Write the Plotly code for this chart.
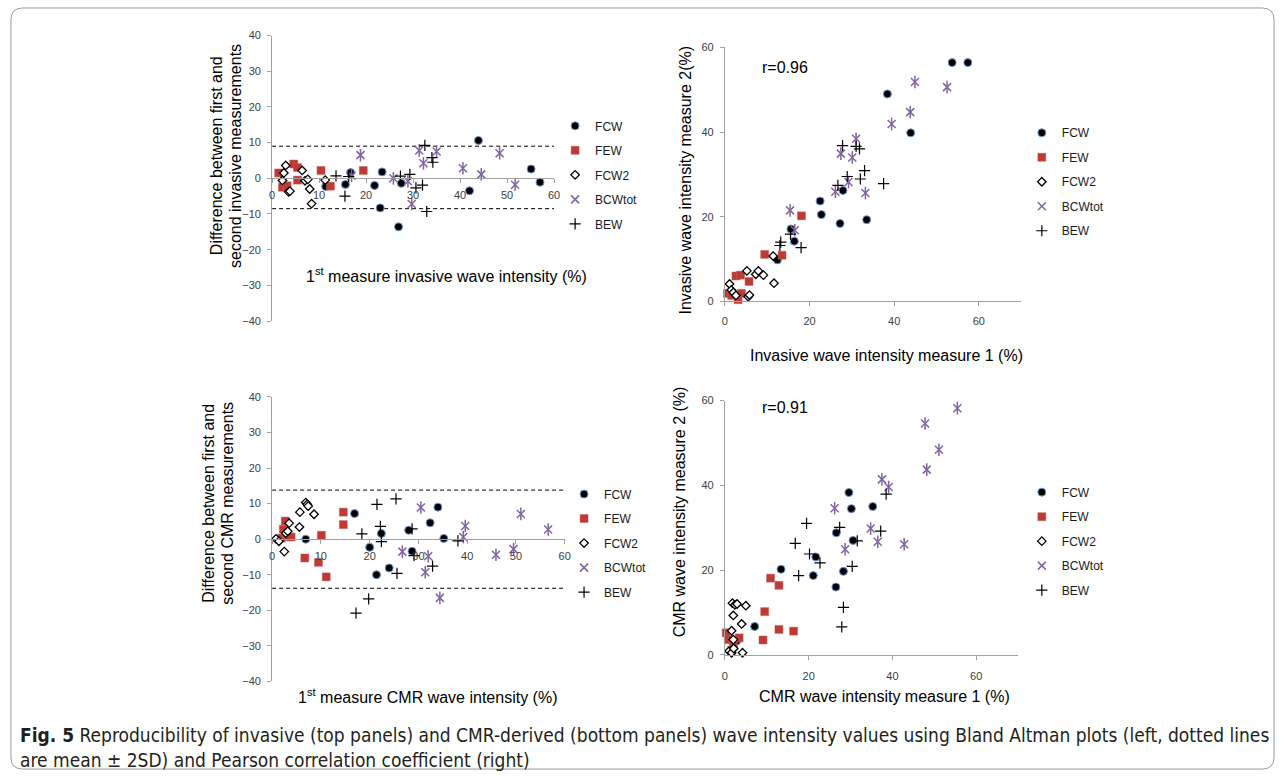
import plotly.graph_objects as go

W, H = 1287, 780

series_names = ["FCW", "FEW", "FCW2", "BCWtot", "BEW"]

# ---- Panel 1: invasive Bland-Altman (x = 1st measure, y = difference) ----
p1_fcw_x = [11.4, 15.6, 16.7, 21.8, 23.0, 23.4, 26.9, 27.5, 42.0, 43.9, 55.1, 57.0]
p1_fcw_y = [-2.3, -1.7, 1.6, -2.0, -8.3, 1.8, -13.6, -1.4, -3.5, 10.6, 2.6, -1.1]
p1_few_x = [1.4, 2.2, 3.2, 4.6, 5.4, 5.4, 10.4, 12.4, 19.4]
p1_few_y = [1.5, -2.5, -2.1, 4.0, 3.0, -0.5, 2.2, -2.2, 2.2]
p1_fcw2_x = [2.2, 2.5, 2.9, 3.5, 3.8, 6.4, 7.0, 7.6, 8.0, 8.4, 11.3]
p1_fcw2_y = [-0.6, 1.5, 3.6, -3.8, -3.6, 2.2, -0.7, -0.3, -3.0, -7.1, -0.5]
p1_bcw_x = [16.9, 18.8, 25.8, 28.9, 29.7, 31.3, 32.2, 35.0, 40.6, 44.5, 48.4, 51.7]
p1_bcw_y = [0.7, 6.5, 0.0, -0.8, -7.2, 7.8, 4.2, 7.5, 2.8, 1.1, 7.0, -1.8]
p1_bew_x = [13.6, 15.5, 16.3, 27.3, 29.3, 30.6, 32.0, 32.5, 34.0, 34.2, 32.9]
p1_bew_y = [0.7, -5.0, 0.5, 0.6, 1.1, -2.7, -1.9, 9.2, 5.8, 4.5, -9.3]
p1_limits = [9.0, -8.5]

# ---- Panel 2: invasive correlation ----
p2_fcw_x = [12.4, 15.6, 16.4, 22.5, 22.8, 27.2, 27.9, 33.5, 38.4, 43.9, 53.7, 57.4]
p2_fcw_y = [9.8, 17.1, 14.2, 23.7, 20.5, 18.4, 26.2, 19.3, 49.0, 39.8, 56.4, 56.4]
p2_few_x = [0.6, 1.6, 2.6, 3.1, 3.7, 3.9, 5.7, 9.4, 13.5, 18.1]
p2_few_y = [1.9, 1.4, 6.0, 0.4, 6.2, 1.9, 4.7, 11.1, 10.9, 20.2]
p2_fcw2_x = [1.1, 1.5, 2.0, 2.6, 5.2, 5.5, 5.8, 7.3, 7.9, 9.1, 11.4, 11.6]
p2_fcw2_y = [4.1, 2.7, 2.1, 1.4, 7.2, 1.1, 1.5, 6.4, 7.2, 6.2, 10.7, 4.3]
p2_bcw_x = [15.4, 16.5, 26.1, 27.4, 29.2, 30.1, 31.0, 33.2, 39.4, 43.8, 44.9, 52.5]
p2_bcw_y = [21.5, 16.8, 25.9, 34.9, 28.2, 34.0, 38.4, 25.6, 41.9, 44.7, 51.8, 50.6]
p2_bew_x = [13.0, 13.2, 15.5, 18.0, 26.7, 27.8, 28.9, 31.0, 31.8, 32.0, 33.0, 37.5]
p2_bew_y = [13.2, 14.0, 15.9, 12.7, 27.4, 36.8, 29.5, 36.6, 36.0, 28.9, 30.9, 27.8]

# ---- Panel 3: CMR Bland-Altman ----
p3_fcw_x = [3.1, 6.9, 16.9, 20.0, 21.4, 22.4, 24.0, 28.0, 28.7, 32.4, 34.0, 35.2]
p3_fcw_y = [0.7, 0.0, 7.2, -2.3, -10.0, 1.6, -8.1, 2.5, -3.4, 4.6, 9.0, 0.2]
p3_few_x = [1.9, 2.3, 2.7, 3.0, 3.9, 6.7, 9.5, 10.1, 11.1, 14.6, 14.6]
p3_few_y = [0.3, 2.8, 5.1, 1.5, 0.6, -5.3, -6.5, 1.1, -10.6, 7.6, 4.1]
p3_fcw2_x = [0.8, 1.4, 2.5, 2.8, 3.2, 3.5, 5.6, 5.7, 6.9, 7.2, 7.4, 8.6]
p3_fcw2_y = [0.1, -0.6, -3.5, 1.7, 2.2, 4.5, 3.4, 7.6, 10.3, 9.8, 9.3, 7.0]
p3_bcw_x = [26.7, 30.5, 31.4, 32.0, 34.4, 39.2, 39.6, 45.9, 49.5, 51.0, 56.6]
p3_bcw_y = [-3.5, 8.9, -9.3, -4.8, -16.5, 0.6, 3.7, -4.4, -2.8, 7.1, 2.7]
p3_bew_x = [17.2, 18.4, 19.8, 21.5, 22.2, 22.4, 25.4, 25.6, 28.7, 29.1, 32.9, 38.1]
p3_bew_y = [-20.8, 1.5, -16.8, 9.8, 3.6, -0.7, 11.3, -9.6, 2.9, -4.6, -7.6, -0.5]
p3_limits = [13.8, -13.8]

# ---- Panel 4: CMR correlation ----
p4_fcw_x = [2.8, 7.1, 13.4, 21.1, 21.7, 26.5, 26.6, 28.3, 29.6, 30.2, 30.6, 35.3]
p4_fcw_y = [3.3, 6.7, 20.2, 18.7, 23.1, 16.0, 28.8, 19.7, 38.3, 34.5, 27.0, 35.0]
p4_few_x = [0.3, 0.8, 1.6, 2.0, 3.4, 9.1, 9.5, 10.9, 12.9, 12.9, 16.4]
p4_few_y = [5.2, 3.6, 1.0, 2.4, 4.0, 3.5, 10.2, 18.1, 16.4, 6.0, 5.6]
p4_fcw2_x = [1.0, 1.6, 1.6, 2.0, 2.1, 1.8, 2.4, 2.9, 4.0, 4.2, 5.0, 2.0]
p4_fcw2_y = [0.9, 0.5, 5.7, 9.3, 1.5, 12.2, 11.8, 12.0, 7.3, 0.5, 11.6, 3.6]
p4_bcw_x = [26.2, 28.7, 34.8, 36.5, 37.5, 39.1, 42.8, 47.8, 48.2, 51.1, 55.5]
p4_bcw_y = [34.6, 24.9, 29.8, 26.7, 41.4, 39.6, 26.1, 54.6, 43.7, 48.4, 58.2]
p4_bew_x = [16.8, 17.6, 19.5, 20.2, 22.7, 27.4, 27.9, 28.3, 30.4, 31.6, 37.2, 38.5]
p4_bew_y = [26.3, 18.7, 31.0, 23.8, 21.7, 30.1, 6.6, 11.2, 20.9, 26.9, 29.2, 37.9]

r_labels = ["r=0.96", "r=0.91"]

# ---------------- styles ----------------
FONT = "Liberation Sans, Arial, Helvetica, sans-serif"
AX_COL = "#a0a0a0"
PURPLE = "#8064a2"
styles = {
    "FCW": dict(symbol="circle", size=8, color="#000000", line=dict(color="#6d9bd6", width=1)),
    "FEW": dict(symbol="square", size=8, color="#bd3a36", line=dict(color="#c9605c", width=0.5)),
    "FCW2": dict(symbol="diamond", size=6.5, color="#ffffff", line=dict(color="#000000", width=1.3)),
    "BCWtot": dict(symbol="x-thin-open", size=8, color=PURPLE, line=dict(color=PURPLE, width=1.5)),
    "BEW": dict(symbol="cross-thin-open", size=8, color="#000000", line=dict(color="#000000", width=1.2)),
}
star_bar = dict(symbol="line-ns-open", size=9, color=PURPLE, line=dict(color=PURPLE, width=1.5))

panels = [
    dict(ax="", leg="legend", data=[(p1_fcw_x, p1_fcw_y), (p1_few_x, p1_few_y), (p1_fcw2_x, p1_fcw2_y),
                                     (p1_bcw_x, p1_bcw_y), (p1_bew_x, p1_bew_y)], limits=p1_limits),
    dict(ax="2", leg="legend2", data=[(p2_fcw_x, p2_fcw_y), (p2_few_x, p2_few_y), (p2_fcw2_x, p2_fcw2_y),
                                       (p2_bcw_x, p2_bcw_y), (p2_bew_x, p2_bew_y)], limits=None),
    dict(ax="3", leg="legend3", data=[(p3_fcw_x, p3_fcw_y), (p3_few_x, p3_few_y), (p3_fcw2_x, p3_fcw2_y),
                                       (p3_bcw_x, p3_bcw_y), (p3_bew_x, p3_bew_y)], limits=p3_limits),
    dict(ax="4", leg="legend4", data=[(p4_fcw_x, p4_fcw_y), (p4_few_x, p4_few_y), (p4_fcw2_x, p4_fcw2_y),
                                       (p4_bcw_x, p4_bcw_y), (p4_bew_x, p4_bew_y)], limits=None),
]

fig = go.Figure()

for pi, p in enumerate(panels):
    xa, ya = "x" + p["ax"], "y" + p["ax"]
    if p["limits"] is not None:
        for lim in p["limits"]:
            fig.add_trace(go.Scatter(x=[0, 60], y=[lim, lim], mode="lines", xaxis=xa, yaxis=ya,
                                     line=dict(color="#000000", width=1, dash="4px,3px"),
                                     showlegend=False, hoverinfo="skip"))
    for name, (xs, ys) in zip(series_names, p["data"]):
        fig.add_trace(go.Scatter(x=xs, y=ys, mode="markers", name=name, xaxis=xa, yaxis=ya,
                                 marker=styles[name], cliponaxis=False, legend=p["leg"],
                                 legendgroup=f"p{pi}_{name}", showlegend=True))
        if name == "BCWtot":
            # vertical bar completes the Excel-style star marker
            fig.add_trace(go.Scatter(x=xs, y=ys, mode="markers", name=name, xaxis=xa, yaxis=ya,
                                     marker=star_bar, cliponaxis=False, legend=p["leg"],
                                     legendgroup=f"p{pi}_{name}", showlegend=False, hoverinfo="skip"))

def fx(px):
    return px / W

def fy(py):
    return 1 - py / H

tickfont = dict(family=FONT, size=11, color="#404040")
common = dict(showgrid=False, zeroline=False, showline=True, linecolor=AX_COL, linewidth=1,
              ticks="outside", ticklen=4, tickcolor=AX_COL, tickwidth=1, tickfont=tickfont,
              fixedrange=True)

layout = dict(
    width=W, height=H, margin=dict(l=0, r=0, t=0, b=0),
    paper_bgcolor="#ffffff", plot_bgcolor="rgba(0,0,0,0)",
    font=dict(family=FONT, color="#000000"),
    xaxis=dict(common, domain=[fx(271), fx(555)], range=[0, 60], tick0=0, dtick=10,
               anchor="free", position=fy(175), ticklabelstandoff=2),
    yaxis=dict(common, domain=[fy(320), fy(30)], range=[-40, 40], tick0=0, dtick=10, anchor="x",
               ticklabelstandoff=4),
    xaxis2=dict(common, domain=[fx(727), fx(1025.3)], range=[0, 70], tickvals=[0, 20, 40, 60],
                anchor="y2", ticklabelstandoff=5),
    yaxis2=dict(common, domain=[fy(300), fy(42)], range=[0, 60], tickvals=[0, 20, 40, 60], anchor="x2",
                ticklabelstandoff=4),
    xaxis3=dict(common, domain=[fx(271), fx(565.7)], range=[0, 60], tick0=0, dtick=10,
                anchor="free", position=fy(541.5), ticklabelstandoff=3),
    yaxis3=dict(common, domain=[fy(686), fy(397)], range=[-40, 40], tick0=0, dtick=10, anchor="x3",
                ticklabelstandoff=4),
    xaxis4=dict(common, domain=[fx(727), fx(1022.2)], range=[0, 70], tickvals=[0, 20, 40, 60],
                anchor="y4", ticklabelstandoff=7),
    yaxis4=dict(common, domain=[fy(659), fy(400.7)], range=[0, 60], tickvals=[0, 20, 40, 60], anchor="x4",
                ticklabelstandoff=4),
    # overlay axis in page pixels, used only to place text and the frame
    xaxis5=dict(domain=[0, 1], range=[0, W], visible=False, fixedrange=True, anchor="y5"),
    yaxis5=dict(domain=[0, 1], range=[H, 0], visible=False, fixedrange=True, anchor="x5"),
    showlegend=True,
)

legfont = dict(family=FONT, size=12, color="#1a1a1a")
leg_common = dict(font=legfont, bgcolor="rgba(0,0,0,0)", borderwidth=0, itemwidth=30,
                  traceorder="grouped", tracegroupgap=5.5, xanchor="left", yanchor="top",
                  itemclick=False, itemdoubleclick=False)
layout["legend"] = dict(leg_common, x=fx(556), y=fy(107))
layout["legend2"] = dict(leg_common, x=fx(1026), y=fy(114))
layout["legend3"] = dict(leg_common, x=fx(565), y=fy(481))
layout["legend4"] = dict(leg_common, x=fx(1026), y=fy(479))

fig.update_layout(**layout)

def ann(x, y, text, size=15, angle=0, xanchor="center", yanchor="middle", font=FONT, color="#000000"):
    fig.add_annotation(x=x, y=y, xref="x5", yref="y5", text=text, showarrow=False,
                       textangle=angle, xanchor=xanchor, yanchor=yanchor,
                       font=dict(family=font, size=size, color=color))

# axis titles
ann(215, 152, "Difference between first and", size=16, angle=-90)
ann(234, 152, "second invasive measurements", size=16, angle=-90)
ann(447, 273, "1<sup>st</sup> measure invasive wave intensity (%)", size=16)
ann(687, 177, "Invasive wave intensity measure 2(%)", size=16, angle=-90)
ann(890, 355, "Invasive wave intensity measure 1 (%)", size=16)
ann(207, 505, "Difference between first and", size=16, angle=-90)
ann(226, 505, "second CMR measurements", size=16, angle=-90)
ann(427, 701, "1<sup>st</sup> measure CMR wave intensity (%)", size=16)
ann(681, 514, "CMR wave intensity measure 2 (%)", size=16, angle=-90)
ann(888, 701, "CMR wave intensity measure 1 (%)", size=16)

# correlation labels
ann(762, 62, r_labels[0], size=16, xanchor="left")
ann(762, 408, r_labels[1], size=16, xanchor="left")

# caption
CAP_FONT = "Liberation Sans Narrow, DejaVu Sans Condensed, Roboto Condensed, sans-serif"
ann(15, 740, "<b>Fig. 5</b> Reproducibility of invasive (top panels) and CMR-derived (bottom panels) "
             "wave intensity values using Bland Altman plots (left, dotted lines",
    size=19, xanchor="left", font=CAP_FONT, color="#231f20")
ann(15, 766, "are mean ± 2SD) and Pearson correlation coefficient (right)",
    size=19, xanchor="left", font=CAP_FONT, color="#231f20")

# rounded frame
r = 12
x0, y0, x1, y1 = 8, 2, 1280, 775
path = (f"M {x0+r},{y0} L {x1-r},{y0} Q {x1},{y0} {x1},{y0+r} L {x1},{y1-r} Q {x1},{y1} {x1-r},{y1} "
        f"L {x0+r},{y1} Q {x0},{y1} {x0},{y1-r} L {x0},{y0+r} Q {x0},{y0} {x0+r},{y0} Z")
fig.add_shape(type="path", path=path, xref="x5", yref="y5", line=dict(color="#9a9a9a", width=1))

fig.write_html("out.html", config={"displayModeBar": False},
               post_script="document.body.style.margin='0px';document.body.style.overflow='hidden';")
